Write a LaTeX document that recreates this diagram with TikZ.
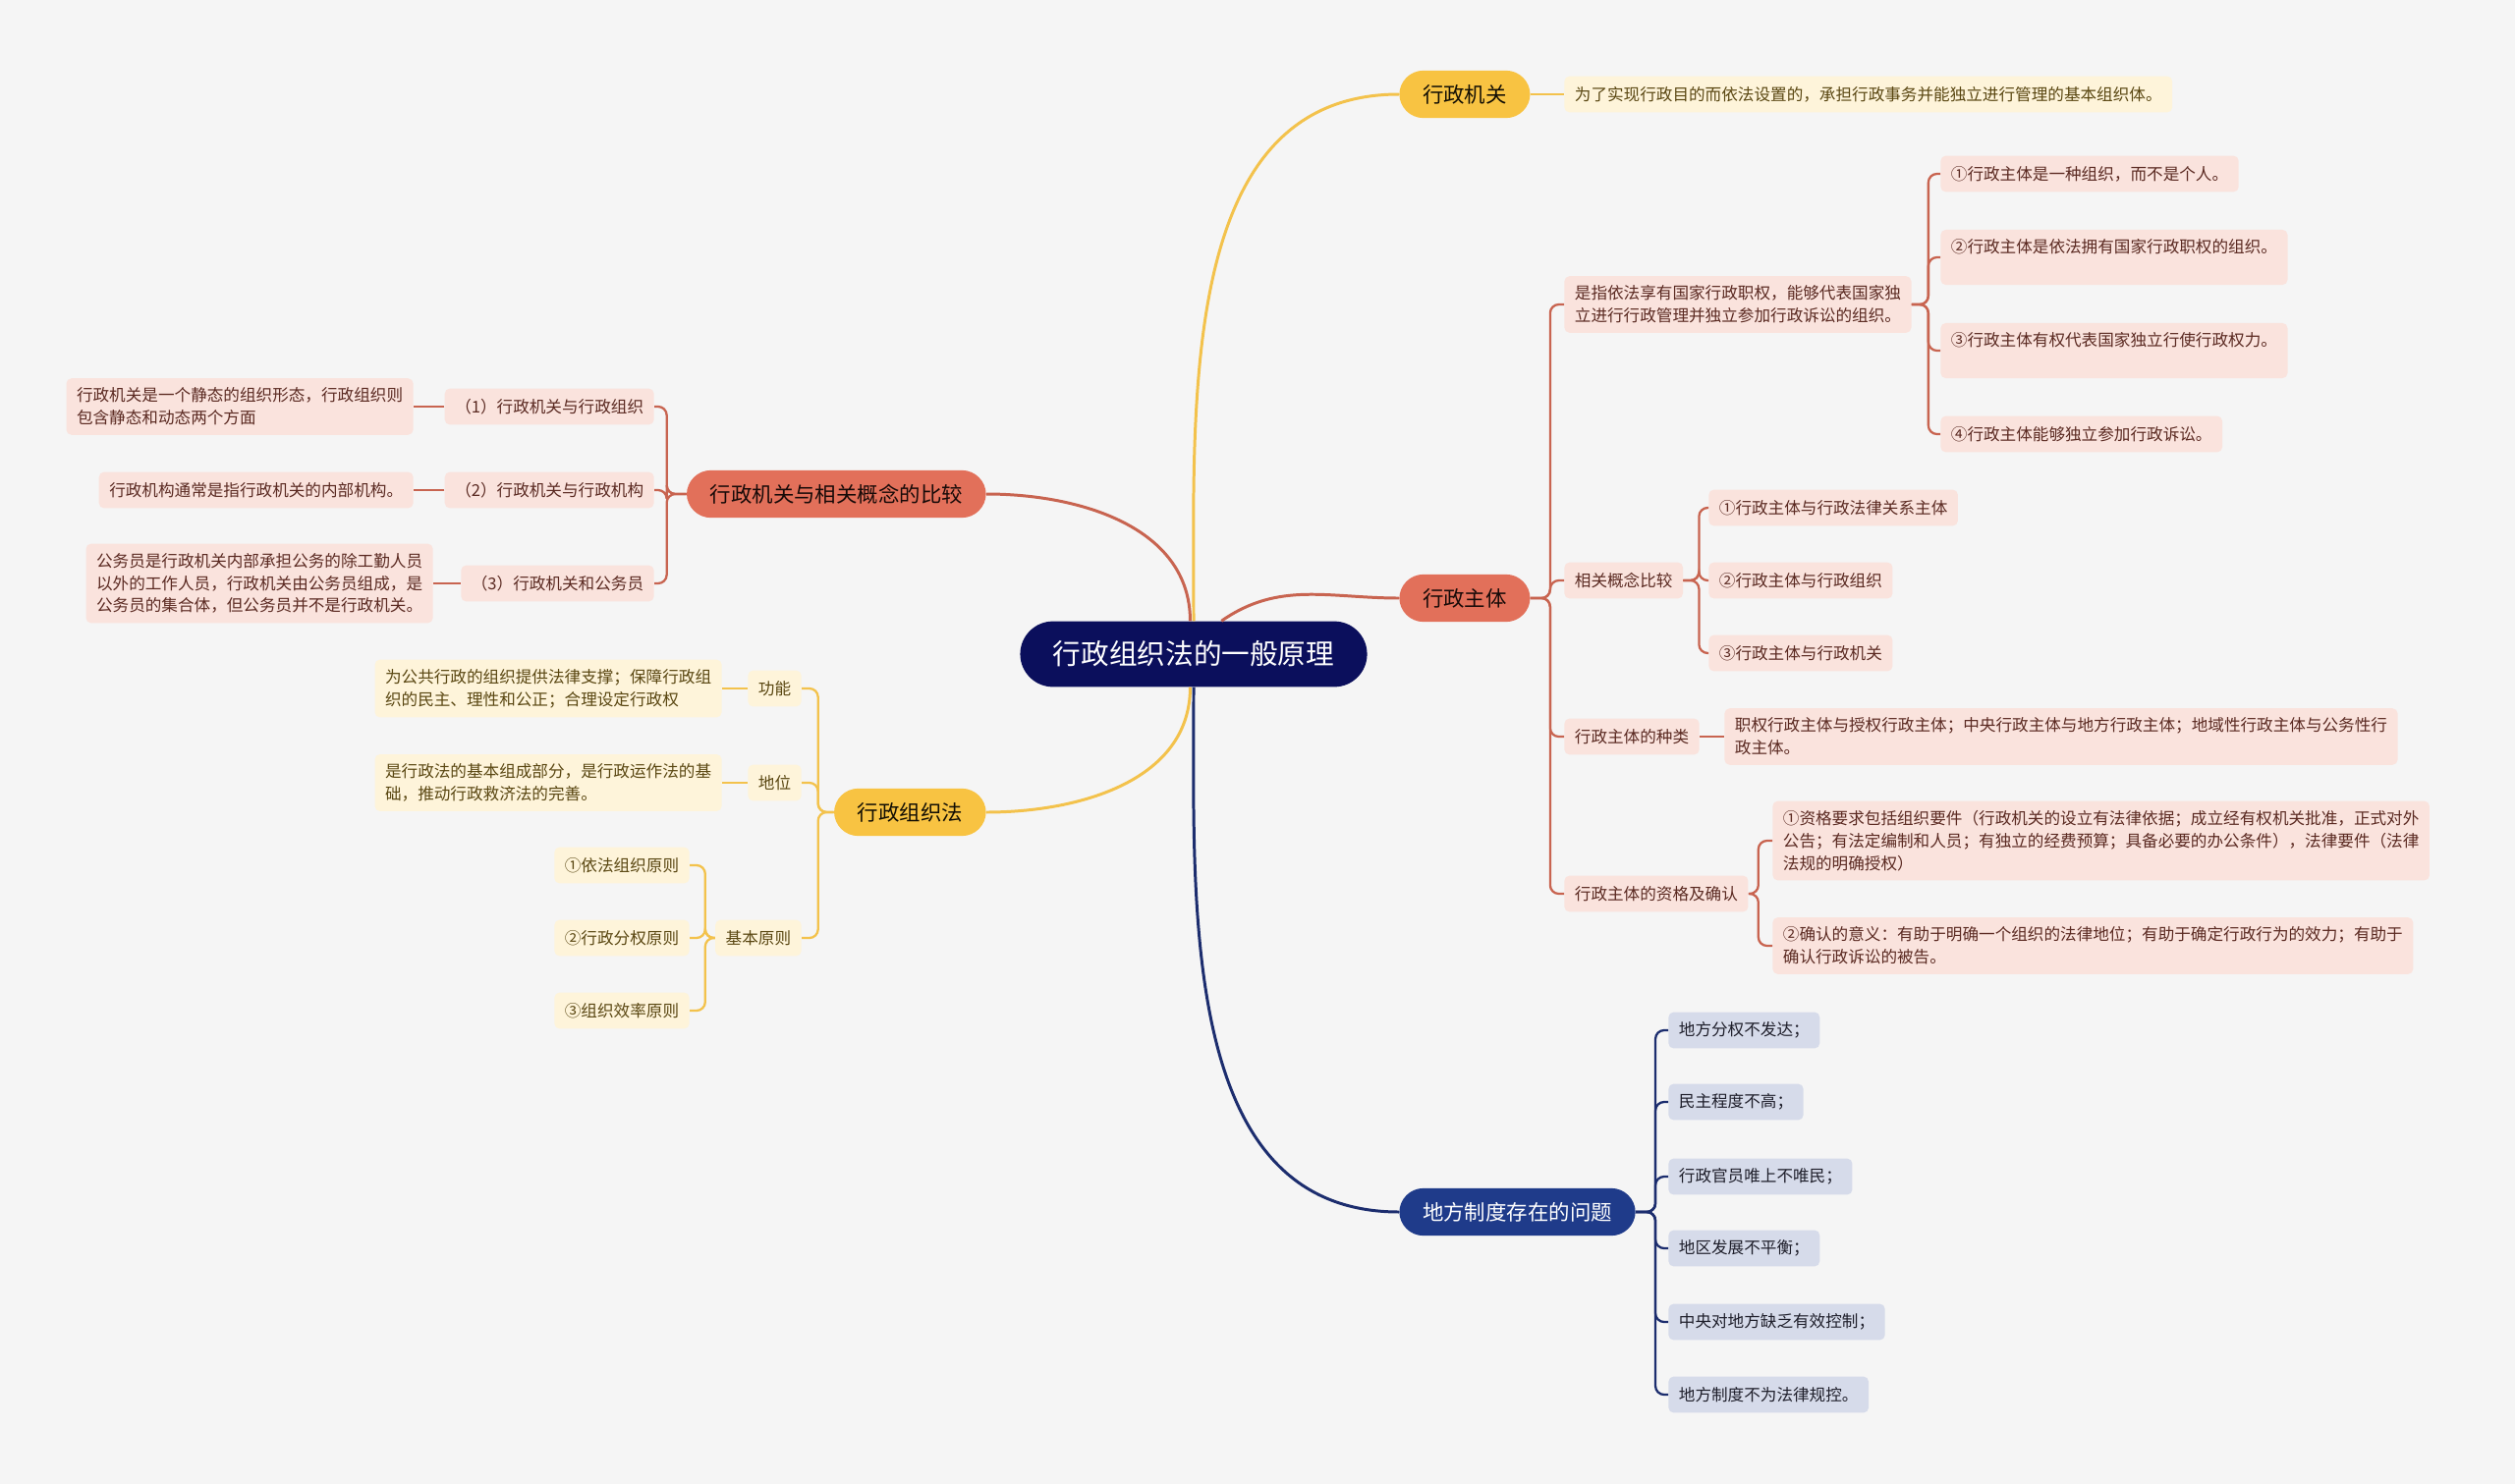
\documentclass[tikz,border=0pt]{standalone}
\usepackage{fontspec}
\setmainfont{Noto Sans CJK SC}

\definecolor{bgcol}{HTML}{F5F5F5}
\definecolor{rootcol}{HTML}{0B0F5C}
\definecolor{ylwfill}{HTML}{F8C342}
\definecolor{ylwleaf}{HTML}{FEF4DA}
\definecolor{ylwtext}{HTML}{5A4712}
\definecolor{ylwline}{HTML}{F3C24C}
\definecolor{redfill}{HTML}{E2705A}
\definecolor{redleaf}{HTML}{FAE3DD}
\definecolor{redtext}{HTML}{5B2A22}
\definecolor{redline}{HTML}{C86450}
\definecolor{bluefill}{HTML}{1F3B8A}
\definecolor{blueleaf}{HTML}{D6DBEA}
\definecolor{bluetext}{HTML}{1E1E2A}
\definecolor{blueline}{HTML}{1C2D6E}

\begin{document}
\begin{tikzpicture}[x=0.02cm,y=-0.02cm]
\tikzset{
  rootnode/.style={rectangle,rounded corners=19pt,fill=rootcol,text=white,inner xsep=19pt,minimum height=38pt,font=\fontsize{16.3pt}{19pt}\selectfont},
  mainnode/.style={rectangle,rounded corners=14pt,inner xsep=13.5pt,minimum height=27.5pt,font=\fontsize{12.2pt}{14pt}\selectfont},
  mainyellow/.style={mainnode,fill=ylwfill,text=black!80!ylwtext},
  mainred/.style={mainnode,fill=redfill,text=black!75!redtext},
  mainblue/.style={mainnode,fill=bluefill,text=white},
  leafnode/.style={rectangle,rounded corners=3pt,inner xsep=6pt,inner ysep=5.5pt,minimum height=21pt,align=left,font=\fontsize{9.45pt}{13pt}\selectfont},
  leafyellow/.style={leafnode,fill=ylwleaf,text=ylwtext},
  leafred/.style={leafnode,fill=redleaf,text=redtext},
  leafblue/.style={leafnode,fill=blueleaf,text=bluetext},
  trunkyellow/.style={draw=ylwline,line width=1.7pt},
  trunkred/.style={draw=redline,line width=1.7pt},
  trunkblue/.style={draw=blueline,line width=1.7pt},
  edgeyellow/.style={draw=ylwline,line width=1.3pt,rounded corners=5pt},
  edgered/.style={draw=redline,line width=1.3pt,rounded corners=5pt},
  edgeblue/.style={draw=blueline,line width=1.3pt,rounded corners=5pt}
}
\useasboundingbox (0,0) rectangle (2560,1511);
\fill[bgcol] (0,0) rectangle (2560,1511);

% centre
\node[rootnode] (n_root) at (1215,666) {行政组织法的一般原理};

% right: 行政机关
\node[mainyellow,anchor=west] (n_jg) at (1424,96) {行政机关};
\node[leafyellow,anchor=west] (n_jg_d) at (1592,96) {为了实现行政目的而依法设置的，承担行政事务并能独立进行管理的基本组织体。};

% right: 行政主体
\node[mainred,anchor=west] (n_zt) at (1424,609) {行政主体};
\node[leafred,anchor=west] (n_zt_def) at (1592,310) {是指依法享有国家行政职权，能够代表国家独\\立进行行政管理并独立参加行政诉讼的组织。};
\node[leafred,anchor=west] (n_zt_def1) at (1975,177) {①行政主体是一种组织，而不是个人。};
\node[leafred,anchor=west] (n_zt_def2) at (1975,262) {②行政主体是依法拥有国家行政职权的组织。\\\mbox{}};
\node[leafred,anchor=west] (n_zt_def3) at (1975,357) {③行政主体有权代表国家独立行使行政权力。\\\mbox{}};
\node[leafred,anchor=west] (n_zt_def4) at (1975,442) {④行政主体能够独立参加行政诉讼。};
\node[leafred,anchor=west] (n_zt_cmp) at (1592,591) {相关概念比较};
\node[leafred,anchor=west] (n_zt_cmp1) at (1739,517) {①行政主体与行政法律关系主体};
\node[leafred,anchor=west] (n_zt_cmp2) at (1739,591) {②行政主体与行政组织};
\node[leafred,anchor=west] (n_zt_cmp3) at (1739,665) {③行政主体与行政机关};
\node[leafred,anchor=west] (n_zt_kind) at (1592,750) {行政主体的种类};
\node[leafred,anchor=west] (n_zt_kind_d) at (1755,750) {职权行政主体与授权行政主体；中央行政主体与地方行政主体；地域性行政主体与公务性行\\政主体。};
\node[leafred,anchor=west] (n_zt_qual) at (1592,910) {行政主体的资格及确认};
\node[leafred,anchor=west] (n_zt_qual1) at (1804,856) {①资格要求包括组织要件（行政机关的设立有法律依据；成立经有权机关批准，正式对外\\公告；有法定编制和人员；有独立的经费预算；具备必要的办公条件），法律要件（法律\\法规的明确授权）};
\node[leafred,anchor=west] (n_zt_qual2) at (1804,963) {②确认的意义：有助于明确一个组织的法律地位；有助于确定行政行为的效力；有助于\\确认行政诉讼的被告。};

% right: 地方制度存在的问题
\node[mainblue,anchor=west] (n_df) at (1424,1234) {地方制度存在的问题};
\node[leafblue,anchor=west] (n_df1) at (1698,1049) {地方分权不发达；};
\node[leafblue,anchor=west] (n_df2) at (1698,1122) {民主程度不高；};
\node[leafblue,anchor=west] (n_df3) at (1698,1198) {行政官员唯上不唯民；};
\node[leafblue,anchor=west] (n_df4) at (1698,1271) {地区发展不平衡；};
\node[leafblue,anchor=west] (n_df5) at (1698,1346) {中央对地方缺乏有效控制；};
\node[leafblue,anchor=west] (n_df6) at (1698,1420) {地方制度不为法律规控。};

% left: 行政机关与相关概念的比较
\node[mainred,anchor=east] (n_bj) at (1004,503) {行政机关与相关概念的比较};
\node[leafred,anchor=east] (n_bj1) at (666,414) {（1）行政机关与行政组织};
\node[leafred,anchor=east] (n_bj1_d) at (421,414) {行政机关是一个静态的组织形态，行政组织则\\包含静态和动态两个方面};
\node[leafred,anchor=east] (n_bj2) at (666,499) {（2）行政机关与行政机构};
\node[leafred,anchor=east] (n_bj2_d) at (421,499) {行政机构通常是指行政机关的内部机构。};
\node[leafred,anchor=east] (n_bj3) at (666,594) {（3）行政机关和公务员};
\node[leafred,anchor=east] (n_bj3_d) at (441,594) {公务员是行政机关内部承担公务的除工勤人员\\以外的工作人员，行政机关由公务员组成，是\\公务员的集合体，但公务员并不是行政机关。};

% left: 行政组织法
\node[mainyellow,anchor=east] (n_zzf) at (1004,827) {行政组织法};
\node[leafyellow,anchor=east] (n_gn) at (816,701) {功能};
\node[leafyellow,anchor=east] (n_gn_d) at (735,701) {为公共行政的组织提供法律支撑；保障行政组\\织的民主、理性和公正；合理设定行政权};
\node[leafyellow,anchor=east] (n_dw) at (816,797) {地位};
\node[leafyellow,anchor=east] (n_dw_d) at (735,797) {是行政法的基本组成部分，是行政运作法的基\\础，推动行政救济法的完善。};
\node[leafyellow,anchor=east] (n_yz) at (816,955) {基本原则};
\node[leafyellow,anchor=east] (n_yz1) at (702,881) {①依法组织原则};
\node[leafyellow,anchor=east] (n_yz2) at (702,955) {②行政分权原则};
\node[leafyellow,anchor=east] (n_yz3) at (702,1029) {③组织效率原则};

% trunks
\draw[trunkyellow] (n_root.north) to[out=90,in=180] (n_jg.west);
\draw[trunkred] (n_root.50) to[out=35,in=180] (n_zt.west);
\draw[trunkblue] (n_root.south) to[out=-90,in=180] (n_df.west);
\draw[trunkred] ([xshift=-2pt]n_root.north) to[out=90,in=0] (n_bj.east);
\draw[trunkyellow] ([xshift=-2pt]n_root.south) to[out=-90,in=0] (n_zzf.west -| n_zzf.east);

% branches
\draw[edgeyellow] (n_jg.east) -- (n_jg_d.west);
\foreach \c in {n_zt_def,n_zt_cmp,n_zt_kind,n_zt_qual}
  \draw[edgered] (n_zt.east) -- ++(20,0) |- (\c.west);
\foreach \c in {n_zt_def1,n_zt_def2,n_zt_def3,n_zt_def4}
  \draw[edgered] (n_zt_def.east) -- ++(17,0) |- (\c.west);
\foreach \c in {n_zt_cmp1,n_zt_cmp2,n_zt_cmp3}
  \draw[edgered] (n_zt_cmp.east) -- ++(16,0) |- (\c.west);
\draw[edgered] (n_zt_kind.east) -- (n_zt_kind_d.west);
\foreach \c in {n_zt_qual1,n_zt_qual2}
  \draw[edgered] (n_zt_qual.east) -- ++(10,0) |- (\c.west);
\foreach \c in {n_df1,n_df2,n_df3,n_df4,n_df5,n_df6}
  \draw[edgeblue] (n_df.east) -- ++(20,0) |- (\c.west);
\foreach \c in {n_bj1,n_bj2,n_bj3}
  \draw[edgered] (n_bj.west) -- ++(-20,0) |- (\c.east);
\draw[edgered] (n_bj1.west) -- (n_bj1_d.east);
\draw[edgered] (n_bj2.west) -- (n_bj2_d.east);
\draw[edgered] (n_bj3.west) -- (n_bj3_d.east);
\foreach \c in {n_gn,n_dw,n_yz}
  \draw[edgeyellow] (n_zzf.west) -- ++(-16,0) |- (\c.east);
\draw[edgeyellow] (n_gn.west) -- (n_gn_d.east);
\draw[edgeyellow] (n_dw.west) -- (n_dw_d.east);
\foreach \c in {n_yz1,n_yz2,n_yz3}
  \draw[edgeyellow] (n_yz.west) -- ++(-10,0) |- (\c.east);
\end{tikzpicture}
\end{document}
